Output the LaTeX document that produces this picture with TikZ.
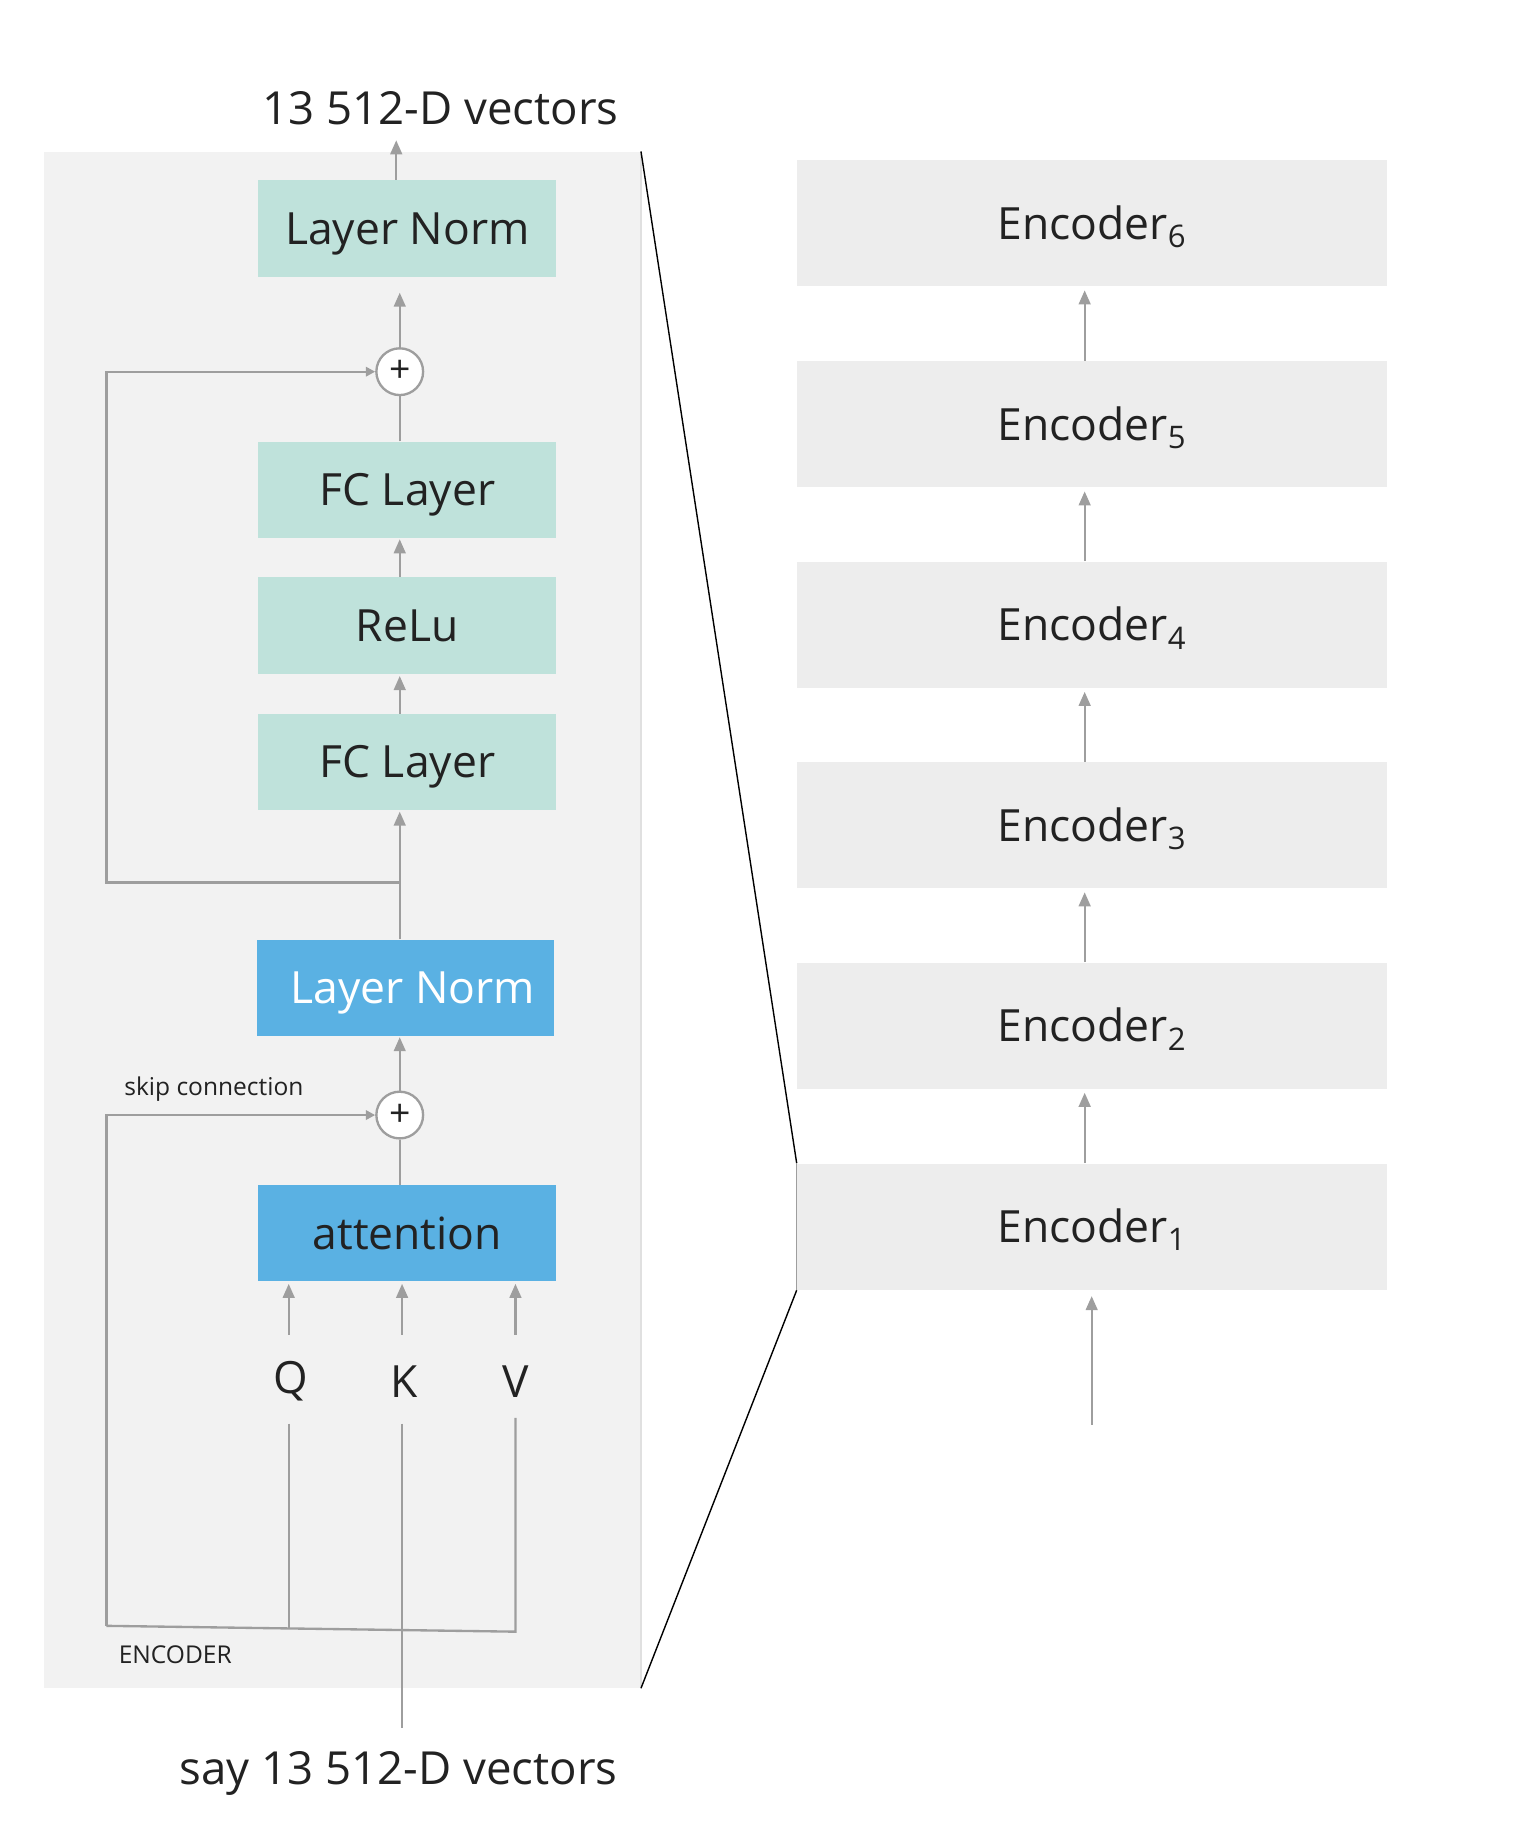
\documentclass[tikz,border=0pt]{standalone}
\usepackage{fontspec}
\setmainfont{Open Sans}
\usetikzlibrary{arrows.meta,calc}
\definecolor{linegray}{HTML}{9E9E9E}
\definecolor{panelgray}{HTML}{F2F2F2}
\definecolor{tealbox}{HTML}{BFE2DB}
\definecolor{bluebox}{HTML}{5AB1E3}
\definecolor{encgray}{HTML}{EDEDED}
\definecolor{txt}{HTML}{222222}
\begin{document}
\begin{tikzpicture}[x=0.5pt,y=-0.5pt,
  bigtext/.style={font=\fontsize{19pt}{23pt}\selectfont, text=txt},
  smalltext/.style={font=\fontsize{10.5pt}{13pt}\selectfont, text=txt},
  boxtext/.style={bigtext, text height=17pt, text depth=3.4pt},
  layerbox/.style={draw=none, fill=tealbox, minimum width=127.5pt, inner sep=0pt, boxtext},
  bluelayer/.style={draw=none, fill=bluebox, minimum width=127.5pt, inner sep=0pt, boxtext},
  encbox/.style={draw=none, fill=encgray, minimum width=252.5pt, minimum height=54pt, inner sep=0pt, boxtext},
  plusnode/.style={circle, draw=linegray, line width=1pt, fill=white, minimum size=20pt, inner sep=0pt, font=\fontsize{16pt}{16pt}\selectfont, text=txt},
  conn/.style={draw=linegray, line width=1pt},
  arr/.style={conn, -{Triangle[width=5pt,length=6pt]}},
  sarr/.style={conn, -{Triangle[width=4pt,length=4pt]}},
  zoomline/.style={draw=black, line width=0.6pt}
]
\useasboundingbox (0,0) rectangle (1309,1567.4);

% encoder panel
\node[fill=panelgray, minimum width=255pt, minimum height=657pt, inner sep=0pt] (panel) at (293,787) {};
\draw[draw=black!12, line width=0.6pt] (panel.north east) -- (panel.south east);

% boxes
\node[layerbox, minimum height=41.5pt] (ln2) at (348.5,195.5) {Layer Norm};
\node[plusnode] (p2) at (342,318) {+};
\node[layerbox, minimum height=41pt] (fc2) at (348.5,419) {FC Layer};
\node[layerbox, minimum height=41.5pt] (relu) at (348.5,535.5) {ReLu};
\node[layerbox, minimum height=41pt] (fc1) at (348.5,652) {FC Layer};
\node[bluelayer, minimum width=127pt, minimum height=41pt, text=white] (ln1) at (347,845) {\hspace*{6pt}Layer Norm};
\node[plusnode] (p1) at (342,954) {+};
\node[bluelayer, minimum height=41pt] (att) at (348.5,1055) {attention};

% titles
\node[bigtext, font=\fontsize{19.5pt}{23pt}\selectfont] (out) at (377,93) {13 512-D vectors};
\node[bigtext, font=\fontsize{19.5pt}{23pt}\selectfont] (in) at (341,1517) {say 13 512-D vectors};

% Q K V
\node[bigtext] (q) at (249,1182) {Q};
\node[bigtext] (k) at (346,1182) {K};
\node[bigtext] (v) at (441,1182) {V};

\node[smalltext] (skiplbl) at (183,932) {skip connection};
\node[smalltext] (enclbl) at (150,1416) {ENCODER};

% coordinates
\coordinate (outtip) at (339,120);
\coordinate (s1a) at (342,755);
\coordinate (s1b) at (91,755);
\coordinate (bl) at (91,1391);
\coordinate (qa) at (247,1142);
\coordinate (ka) at (344,1142);
\coordinate (va) at (441,1142);
\coordinate (qb) at (247,1218);
\coordinate (kb) at (344,1218);
\coordinate (vb) at (441,1213);
\coordinate (qe) at (247,1393);
\coordinate (ve) at (441,1396);
\coordinate (kend) at (344,1478);

% connectors, left
\draw[arr] (ln2.north -| outtip) -- (outtip);
\draw[arr] (p2.north) -- ($(ln2.south -| p2)+(0,13)$);
\draw[conn] (fc2.north -| p2) -- (p2.south);
\draw[arr] (relu.north -| p2) -- ($(fc2.south -| p2)+(0,1)$);
\draw[arr] (fc1.north -| p2) -- ($(relu.south -| p2)+(0,1)$);
\draw[arr] (ln1.north -| p2) -- ($(fc1.south -| p2)+(0,1)$);
\draw[sarr] (s1a) -- (s1b) |- (p2.west);
\draw[arr] (p1.north) -- ($(ln1.south -| p1)+(0,1)$);
\draw[conn] (att.north -| p1) -- (p1.south);
\draw[sarr] (bl) |- (p1.west);
\draw[conn] (bl) -- (ve) -- (vb);
\draw[conn] (qb) -- (qe);
\draw[conn] (kb) -- (kend);
\draw[arr] (qa) -- ($(att.south -| qa)+(0,2)$);
\draw[arr] (ka) -- ($(att.south -| ka)+(0,2)$);
\draw[arr] (va) -- ($(att.south -| va)+(0,2)$);

% right encoders
\node[encbox] (e6) at (934.5,191) {Encoder\textsubscript{6}};
\node[encbox] (e5) at (934.5,363) {Encoder\textsubscript{5}};
\node[encbox] (e4) at (934.5,534.5) {Encoder\textsubscript{4}};
\node[encbox] (e3) at (934.5,706) {Encoder\textsubscript{3}};
\node[encbox] (e2) at (934.5,877.5) {Encoder\textsubscript{2}};
\node[encbox] (e1) at (934.5,1049.5) {Encoder\textsubscript{1}};
\coordinate (ex) at (928,0);
\coordinate (ein) at (934,1219);
\draw[arr] (e5.north -| ex) -- ($(e6.south -| ex)+(0,3)$);
\draw[arr] (e4.north -| ex) -- ($(e5.south -| ex)+(0,3)$);
\draw[arr] (e3.north -| ex) -- ($(e4.south -| ex)+(0,3)$);
\draw[arr] (e2.north -| ex) -- ($(e3.south -| ex)+(0,3)$);
\draw[arr] (e1.north -| ex) -- ($(e2.south -| ex)+(0,3)$);
\draw[arr] (ein) -- ($(e1.south -| ein)+(0,5)$);

% zoom lines
\draw[zoomline] (panel.north east) -- (e1.north west);
\draw[zoomline] (e1.south west) -- (panel.south east);
\draw[draw=linegray, line width=0.6pt] (e1.north west) -- (e1.south west);
\end{tikzpicture}
\end{document}
